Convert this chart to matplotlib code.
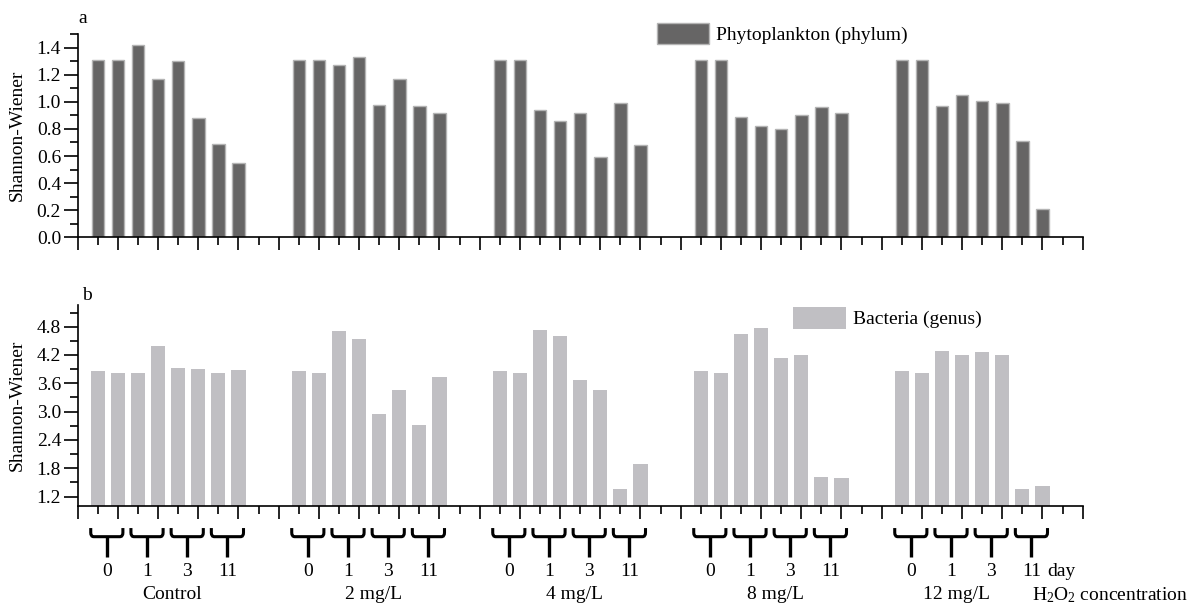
import matplotlib
matplotlib.use("Agg")
import matplotlib.pyplot as plt
import numpy as np
from matplotlib.ticker import MultipleLocator, FormatStrFormatter
from matplotlib.path import Path
from matplotlib.patches import PathPatch
import matplotlib.transforms as mtransforms

plt.rcParams['font.family'] = ['Liberation Serif', 'DejaVu Serif']
plt.rcParams['mathtext.fontset'] = 'custom'
plt.rcParams['mathtext.rm'] = 'Liberation Serif'
plt.rcParams['mathtext.it'] = 'Liberation Serif:italic'
plt.rcParams['font.size'] = 14

# treatment groups and sampling days (two replicate bars per day)
groups = ['Control', '2 mg/L', '4 mg/L', '8 mg/L', '12 mg/L']
days = ['0', '1', '3', '11']

# Shannon-Wiener index, phytoplankton (phylum), 8 bars per group
phyto = [
    [1.31, 1.31, 1.42, 1.17, 1.30, 0.88, 0.69, 0.55],
    [1.31, 1.31, 1.27, 1.33, 0.98, 1.17, 0.97, 0.92],
    [1.31, 1.31, 0.94, 0.86, 0.92, 0.59, 0.99, 0.68],
    [1.31, 1.31, 0.89, 0.82, 0.80, 0.90, 0.96, 0.92],
    [1.31, 1.31, 0.97, 1.05, 1.01, 0.99, 0.71, 0.21],
]

# Shannon-Wiener index, bacteria (genus)
bact = [
    [3.87, 3.81, 3.82, 4.38, 3.93, 3.91, 3.81, 3.89],
    [3.87, 3.81, 4.70, 4.54, 2.94, 3.45, 2.72, 3.74],
    [3.87, 3.81, 4.72, 4.60, 3.66, 3.45, 1.36, 1.88],
    [3.87, 3.81, 4.65, 4.77, 4.13, 4.19, 1.62, 1.60],
    [3.87, 3.81, 4.28, 4.19, 4.27, 4.20, 1.36, 1.42],
]

# x positions: each group occupies 10 slots, bars in slots 1..8
xpos = []
for g in range(len(groups)):
    xpos.append(np.arange(1, 9) + 10 * g)

fig = plt.figure(figsize=(11.95, 6.10), dpi=100)
ax1 = fig.add_axes([0.065, 0.611, 0.841, 0.333])
ax2 = fig.add_axes([0.065, 0.1705, 0.841, 0.3288])

dark = '#666565'
light = '#c0bfc3'

for g in range(len(groups)):
    ax1.bar(xpos[g], phyto[g], width=0.62, color=dark, edgecolor='#b4b4b4',
            linewidth=1.0, label='Phytoplankton (phylum)' if g == 0 else None, zorder=2)
    ax2.bar(xpos[g], bact[g], width=0.70, color=light, edgecolor='none',
            label='Bacteria (genus)' if g == 0 else None, zorder=2)

for ax in (ax1, ax2):
    ax.set_xlim(0, 50)
    for s in ('top', 'right'):
        ax.spines[s].set_visible(False)
    for s in ('left', 'bottom'):
        ax.spines[s].set_linewidth(1.2)
        ax.spines[s].set_zorder(3)
    ax.xaxis.set_major_locator(MultipleLocator(2))
    ax.xaxis.set_minor_locator(MultipleLocator(1))
    ax.tick_params(axis='x', which='major', direction='out', length=9.5, width=1.2, labelbottom=False)
    ax.tick_params(axis='x', which='minor', direction='out', length=5.5, width=1.2)
    ax.tick_params(axis='y', which='major', direction='out', length=10, width=1.2, labelsize=14, pad=2)
    ax.tick_params(axis='y', which='minor', direction='out', length=5.5, width=1.2)
    ax.yaxis.set_major_formatter(FormatStrFormatter('%.1f'))
    ax.set_ylabel('Shannon-Wiener', fontsize=14)
    ax.yaxis.set_label_coords(-0.0514, 0.5)

ax1.set_ylim(0, 1.5)
ax1.yaxis.set_major_locator(MultipleLocator(0.2))
ax1.yaxis.set_minor_locator(MultipleLocator(0.1))

ax2.set_ylim(1.0, 5.25)
ax2.yaxis.set_major_locator(MultipleLocator(0.6))
ax2.yaxis.set_minor_locator(MultipleLocator(0.3))

# panel letters
fig.text(0.0657, 0.970, 'a', fontsize=14, va='center', ha='left')
fig.text(0.0685, 0.515, 'b', fontsize=14, va='center', ha='left')

# legends
leg1 = ax1.legend(loc='upper left', bbox_to_anchor=(0.5495, 0.9628), bbox_transform=fig.transFigure,
                  frameon=False, fontsize=14, handlelength=2.7, handleheight=1.3,
                  handletextpad=0.35, borderpad=0, borderaxespad=0)
leg2 = ax2.legend(loc='upper left', bbox_to_anchor=(0.6639, 0.4962), bbox_transform=fig.transFigure,
                  frameon=False, fontsize=14, handlelength=2.7, handleheight=1.3,
                  handletextpad=0.35, borderpad=0, borderaxespad=0)

# brackets and day labels under panel b
trans = mtransforms.blended_transform_factory(ax2.transData, ax2.transAxes)
w = 0.8
top, mid, stem = -0.11, -0.153, -0.253
rx, ry = 0.15, 0.02
for g in range(len(groups)):
    for j, d in enumerate(days):
        c = xpos[g][2 * j] + 0.45
        verts = [(c - w, top), (c - w, mid + ry), (c - w, mid), (c - w + rx, mid),
                 (c + w - rx, mid), (c + w, mid), (c + w, mid + ry), (c + w, top)]
        codes = [Path.MOVETO, Path.LINETO, Path.CURVE3, Path.CURVE3,
                 Path.LINETO, Path.CURVE3, Path.CURVE3, Path.LINETO]
        ax2.add_patch(PathPatch(Path(verts, codes), facecolor='none', edgecolor='black',
                                linewidth=2.2, transform=trans, clip_on=False, capstyle='butt'))
        ax2.plot([c, c], [mid, stem], color='black', linewidth=2.4, transform=trans,
                 clip_on=False, solid_capstyle='butt')
        ax2.text(c, -0.327, d, transform=trans, ha='center', va='center', fontsize=14)
    shift = 0.2 if g < len(groups) - 1 else -0.8
    ax2.text(xpos[g].mean() + shift, -0.443, groups[g], transform=trans,
             ha='center', va='center', fontsize=14)

ax2.text(48.25, -0.327, 'day', transform=trans, ha='left', va='center', fontsize=14)
ax2.text(47.46, -0.443, 'H$_2$O$_2$ concentration', transform=trans, ha='left',
         va='center', fontsize=14)

fig.savefig('out.png', dpi=100)
